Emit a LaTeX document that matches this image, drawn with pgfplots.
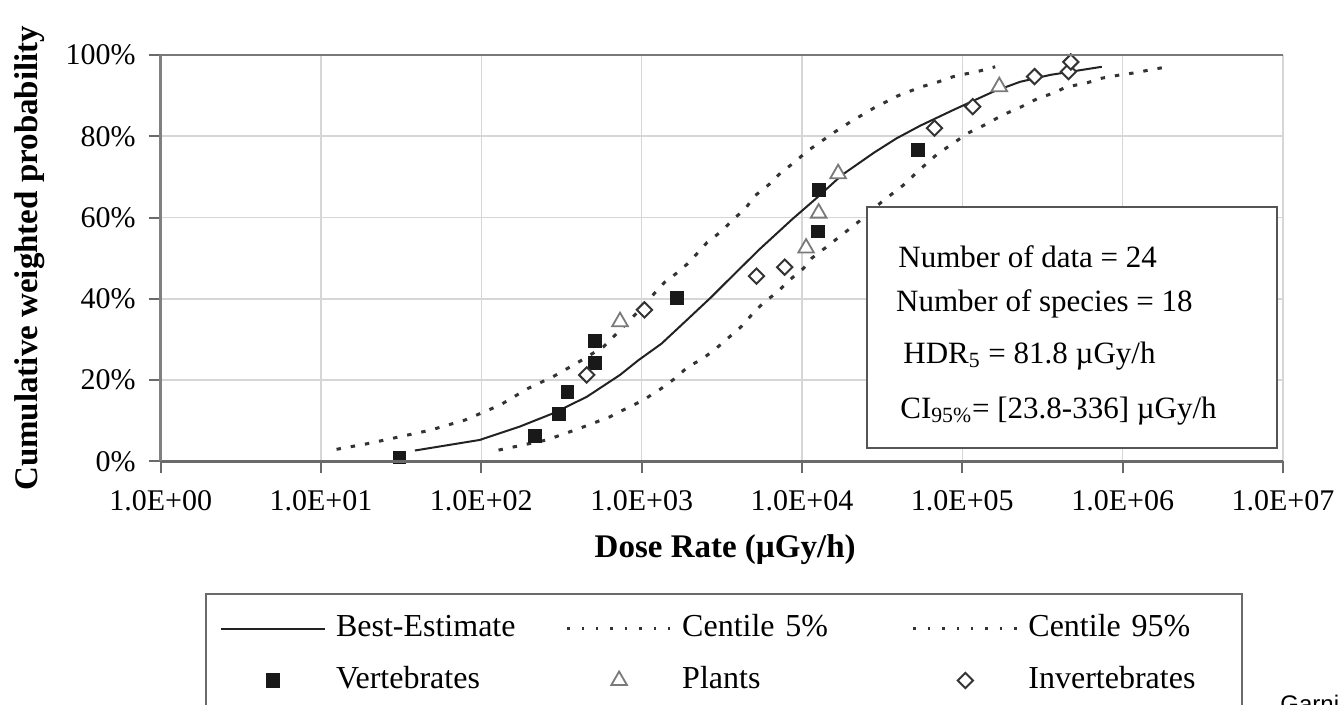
\documentclass[border=0pt]{standalone}
\usepackage{pgfplots}
\pgfplotsset{compat=1.18}
\usepackage{fontspec}
\setmainfont{Liberation Serif}
\newfontfamily\sansfont{Liberation Sans}
\definecolor{gridgray}{HTML}{D6D6D6}
\definecolor{axgray}{HTML}{6A6A6A}
\definecolor{curve}{HTML}{222222}
\definecolor{dotc}{HTML}{333333}
\definecolor{trigray}{HTML}{7A7A7A}

\pgfplotsset{
  linelegend/.style={legend image code/.code={\draw[##1] (0pt,0pt) -- (52pt,0pt);}},
  dotlegend/.style={legend image code/.code={\draw[##1, line width=1.1pt, dash pattern=on 1.2pt off 6pt] (0pt,0pt) -- (52pt,0pt);}},
  marklegend/.style={legend image code/.code={\draw[##1] plot coordinates {(26pt,0pt)};}},
}

\begin{document}
\begin{tikzpicture}[x=1pt,y=1pt]
\useasboundingbox (0,0) rectangle (671.5,352.5);
\begin{axis}[
  at={(80.35pt,121.75pt)}, anchor=south west,
  width=561.15pt, height=203.25pt, scale only axis,
  xmode=log, xmin=1, xmax=1e7, ymin=0, ymax=100,
  xtick={1,10,100,1000,1e4,1e5,1e6,1e7},
  xticklabels={1.0E+00,1.0E+01,1.0E+02,1.0E+03,1.0E+04,1.0E+05,1.0E+06,1.0E+07},
  ytick={0,20,40,60,80,100},
  yticklabels={0\%,20\%,40\%,60\%,80\%,100\%},
  xminorticks=false,
  grid=major, major grid style={gridgray, line width=0.8pt},
  axis line style={draw=none},
  tick align=outside, major tick length=6pt,
  xtick pos=bottom, ytick pos=left,
  tick style={axgray, line width=1pt},
  ticklabel style={font=\fontsize{15}{18}\selectfont},
  xticklabel style={yshift=-5pt},
  yticklabel style={xshift=-3pt},
  xlabel={Dose Rate (µGy/h)},
  ylabel={Cumulative weighted probability},
  label style={font=\fontsize{16.5}{19}\selectfont\bfseries},
  xlabel style={at={(rel axis cs:0.503,-0.2177)}, anchor=center},
  ylabel style={at={(rel axis cs:-0.117,0.5)}, anchor=center},
  legend columns=3,
  legend style={at={(rel axis cs:0.0395,-0.3235)}, anchor=north west,
    draw=axgray, line width=1pt, inner xsep=7pt, inner ysep=8pt,
    font=\fontsize{16}{19}\selectfont,
    column sep=5pt, row sep=7.5pt,
    nodes={text width=100pt, align=left, inner xsep=0pt, text height=11pt, text depth=3.5pt},
    /tikz/every even column/.append style={column sep=15pt}},
  legend cell align=left,
  after end axis/.code={
    \draw[axgray, line width=1.4pt] (rel axis cs:0,0) -- (rel axis cs:1,0);
    \draw[axgray!85, line width=1.5pt] (rel axis cs:0,0) -- (rel axis cs:0,1);
    \draw[axgray!90, line width=1pt] (rel axis cs:0,1) -- (rel axis cs:1,1);
  },
]

% best estimate
\addplot[curve, line width=1pt, line join=round, linelegend] coordinates {
(38.5,2.7) (97.7,5.3) (174,8.6) (282,11.9) (454,15.9) (733,21.3) (953,24.9)
(1330,29.0) (1900,34.7) (2710,40.4) (3610,45.3) (5430,52.2) (8690,59.6)
(12080,64.5) (17780,70.5) (28180,76.0) (38900,79.5) (54580,82.6) (88100,86.5)
(156300,91.0) (229100,93.4) (353200,95.1) (741300,97.1)};
\addlegendentry{Best-Estimate}

% centile 5%
\addplot[dotc, line width=1.5pt, dash pattern=on 2.2pt off 5pt, dotlegend] coordinates {
(12.5,3.0) (20.2,4.5) (31.1,6.1) (47.9,7.7) (79.1,10.2) (131,13.9) (196,18.0)
(281,20.9) (394,24.2) (577,28.2) (741,32.5) (1000,37.8) (1178,41.0) (1390,44.1)
(1675,46.5) (1977,49.0) (2560,53.9) (3162,56.7) (3724,59.6) (4395,62.0)
(5058,65.3) (6252,68.2) (7362,71.0) (8892,73.5) (10740,76.3) (13240,78.8)
(15630,80.8) (19950,83.5) (28180,87.0) (39810,90.0) (55850,92.2) (70960,93.4)
(88100,94.7) (129100,96.1) (160300,97.1)};
\addlegendentry{Centile 5\%}

% centile 95%
\addplot[dotc, line width=1.5pt, dash pattern=on 2.2pt off 5pt, dotlegend] coordinates {
(128,2.8) (256,5.3) (413,8.2) (635,11.0) (771,12.7) (1023,15.1) (1330,18.0)
(1607,20.4) (1945,23.3) (2404,25.3) (2911,27.8) (3516,30.6) (4159,33.1)
(4909,36.3) (5794,39.2) (7000,41.6) (8279,44.5) (10210,47.5) (11480,50.0)
(14450,53.0) (17780,55.8) (22910,59.2) (31480,63.9) (42950,68.0) (52480,71.3)
(69180,75.5) (108600,80.8) (138000,82.8) (177800,85.2) (234400,87.3)
(295100,89.3) (369000,90.6) (448700,92.2) (583400,93.0) (741300,94.3)
(966100,95.1) (1230000,95.7) (1549000,96.5) (1932000,97.1)};
\addlegendentry{Centile 95\%}

% vertebrates
\addplot[only marks, mark=square*, mark size=3.2pt, mark options={fill=black!90, draw=black!90}, marklegend] coordinates {
(30.8,1.0) (216,6.3) (305,11.7) (344,17.1) (512,24.3) (512,29.7) (1650,40.2)
(12600,56.6) (12800,66.8) (52700,76.6)};
\addlegendentry{Vertebrates}

% plants
\addplot[only marks, mark=triangle*, mark size=4.5pt, mark options={fill=white, draw=trigray, line width=0.9pt}, marklegend] coordinates {
(733,34.4) (10600,52.5) (12700,61.1) (16800,70.8) (170000,92.2)};
\addlegendentry{Plants}

% invertebrates
\addplot[only marks, mark=square*, mark size=2.7pt, mark options={rotate=45, fill=white, draw=black!80, line width=1pt}, marklegend] coordinates {
(454,21.3) (1040,37.3) (5200,45.6) (7800,47.8) (67000,82.0) (116000,87.3)
(282000,94.7) (459000,95.9) (475000,98.3)};
\addlegendentry{Invertebrates}

\draw[axgray!80!black, line width=1pt, fill=white]
  (rel axis cs:0.629,0.0325) rectangle (rel axis cs:0.9945,0.627);
\begin{scope}[every node/.style={anchor=base west, inner sep=0pt, font=\fontsize{15.5}{18}\selectfont}]
\node at (rel axis cs:0.657,0.476) {Number of data = 24};
\node at (rel axis cs:0.655,0.368) {Number of species = 18};
\node at (rel axis cs:0.6614,0.2423) {HDR\textsubscript{5} = 81.8 µGy/h};
\node at (rel axis cs:0.6587,0.107) {CI\textsubscript{95\%}= [23.8-336] µGy/h};
\end{scope}
\end{axis}
\node[anchor=base west, inner sep=0pt, font=\sansfont\fontsize{12}{14}\selectfont] at (640,-4) {Garni};
\end{tikzpicture}
\end{document}
